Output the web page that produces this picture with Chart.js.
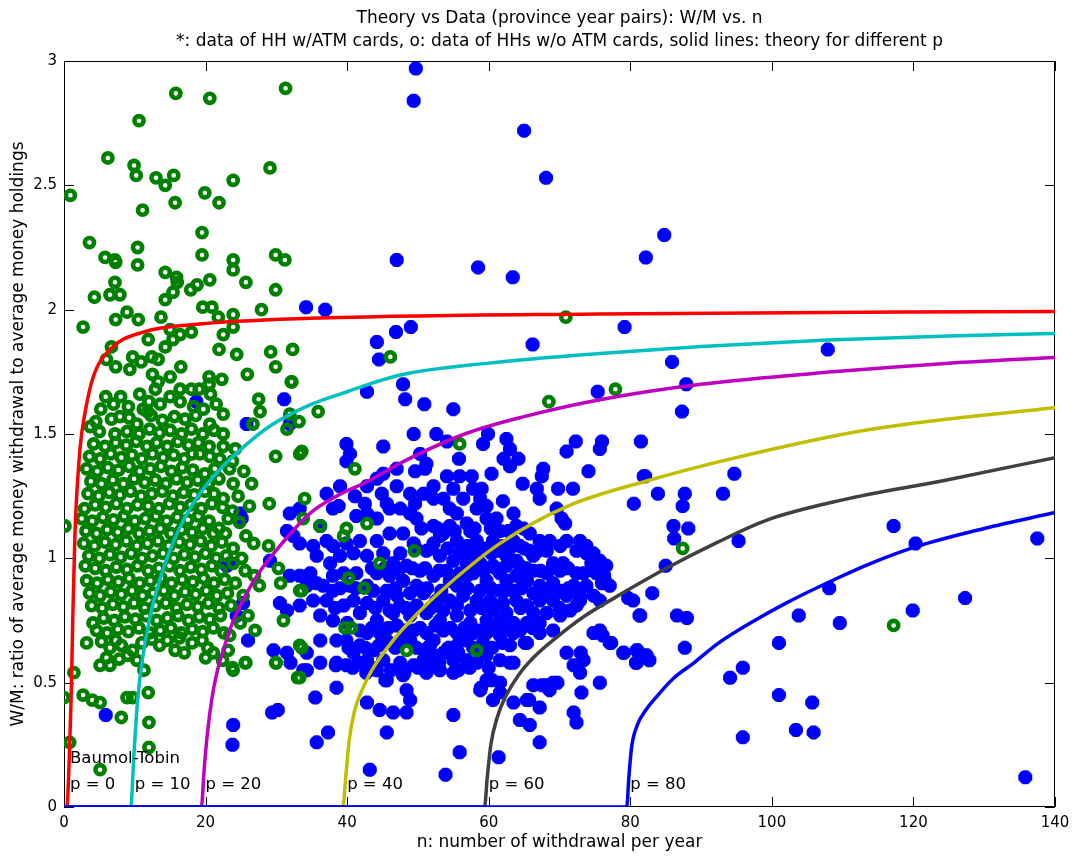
<!DOCTYPE html>
<html>
<head>
<meta charset="utf-8">
<script src="https://cdn.jsdelivr.net/npm/chart.js@4.4.0/dist/chart.umd.min.js"></script>
<style>
  html, body { margin: 0; padding: 0; background: #fff; }
</style>
</head>
<body>
<canvas id="grafico" width="1079" height="860"></canvas>
<script>
// p of every theory curve, and the axis ticks
const pValues = [0, 10, 20, 40, 60, 80];
const xTicks = [0, 20, 40, 60, 80, 100, 120, 140];
const yTicks = [0, 0.5, 1, 1.5, 2, 2.5, 3];

// theory curves [n, W/M]
const theoryP0 = [[0,0],[0.4,0],[0.75,0.2],[1.0,0.43],[1.25,0.77],[1.55,1.1],[2.26,1.44],[3.0,1.59],[4.14,1.73],[6.5,1.84],[11.2,1.91],[18.3,1.94],[34.7,1.965],[75.7,1.983],[140,1.993]];
const theoryP10 = [[0,0],[9.42,0],[9.9,0.22],[10.4,0.43],[11.0,0.58],[12.15,0.765],[13.4,0.9],[14.97,1.033],[17,1.16],[19.2,1.261],[21.8,1.35],[24.9,1.436],[29,1.53],[34.75,1.617],[40,1.67],[47.5,1.737],[60,1.785],[75.7,1.824],[90,1.852],[107.9,1.878],[125,1.894],[140,1.904]];
const theoryP20 = [[0,0],[19.4,0],[19.8,0.15],[20.2,0.28],[20.86,0.43],[21.6,0.54],[22.5,0.63],[23.8,0.74],[25.3,0.832],[27.5,0.94],[30.0,1.033],[34.75,1.181],[38.5,1.25],[42.8,1.308],[48,1.39],[56.9,1.503],[65,1.57],[75.7,1.638],[90,1.70],[108.6,1.75],[125,1.785],[140,1.808]];
const theoryP40 = [[0,0],[39.4,0],[39.8,0.12],[40.3,0.27],[41.0,0.38],[42.1,0.47],[43.5,0.55],[46.5,0.67],[50,0.78],[54.5,0.9],[61.6,1.06],[71.0,1.208],[82.8,1.315],[94.5,1.402],[113.4,1.516],[140,1.607]];
const theoryP60 = [[0,0],[59.4,0],[59.8,0.12],[60.3,0.25],[61.2,0.36],[62.5,0.45],[64.2,0.53],[66.3,0.6],[69.5,0.68],[73.4,0.765],[78,0.845],[85.1,0.96],[92,1.06],[99.3,1.154],[110,1.235],[124.7,1.315],[140,1.405]];
const theoryP80 = [[0,0],[79.5,0],[79.8,0.12],[80.2,0.243],[81.0,0.33],[82.2,0.39],[83.7,0.443],[86,0.515],[88.9,0.578],[92.5,0.66],[96.9,0.739],[102,0.82],[108.7,0.913],[114,0.98],[120.4,1.047],[130,1.12],[140,1.184]];

// HH with ATM cards (*), [n, W/M]
const conAtm = [
  [49.7,2.97],[49.4,2.84],[65.0,2.72],[68.1,2.53],[84.8,2.30],[82.2,2.21],[47.0,2.20],[58.5,2.17],[63.4,2.13],[34.2,2.01],[36.9,2.00],
  [79.2,1.93],[66.2,1.86],[44.2,1.87],[46.9,1.91],[49.0,1.93],[44.5,1.80],[47.9,1.70],[42.8,1.67],[31.1,1.64],[75.4,1.67],
  [107.9,1.84],[85.9,1.79],[87.9,1.70],[87.3,1.59],[75.7,1.44],[94.7,1.34],[81.9,1.33],[83.9,1.26],[87.7,1.26],[93.1,1.26],[80.5,1.22],
  [87.4,1.21],[86.1,1.13],[88.2,1.12],[86.2,1.08],[95.3,1.07],[85.0,0.97],[76.3,0.93],[76.0,0.90],[79.7,0.84],[83.1,0.86],[81.3,0.77],
  [86.6,0.77],[88.0,0.76],[76.1,0.69],[77.3,0.66],[79.1,0.62],[81.0,0.63],[80.8,0.58],[82.7,0.59],[87.7,0.64],[75.7,0.50],[117.2,1.13],
  [120.3,1.06],[137.5,1.08],[108.1,0.88],[103.8,0.77],[109.6,0.74],[119.9,0.79],[127.3,0.84],[101.0,0.66],[95.9,0.56],[94.1,0.52],
  [101.0,0.45],[105.7,0.42],[103.4,0.31],[105.9,0.30],[95.9,0.28],[135.8,0.12],
  [24.9,1.18],[25.1,1.16],[33.3,1.20],[31.9,1.18],[31.5,1.11],[32.4,1.09],[33.3,1.06],[29.1,0.99],[31.9,0.93],[33.3,0.93],[34.3,0.89],
  [23.0,0.97],[23.5,0.98],[30.5,0.82],[31.5,0.79],[25.3,0.82],[24.4,0.77],[26.0,0.67],[29.6,0.63],[31.5,0.62],[33.8,0.55],[32.0,0.58],
  [25.8,1.54],[18.7,1.63],[31.9,1.54],[5.9,0.37],
  [23.9,0.33],[23.8,0.25],[29.4,0.38],[30.2,0.39],[43.2,0.15],[45.4,0.51],[55.9,0.22],[53.9,0.13],[61.4,0.20],[58.9,0.48],[65.7,0.43],
  [67.5,0.49],[68.6,0.47],[69.7,0.50],[60.5,0.51],[73.0,0.62],[65.1,0.66],[38.4,0.57],[41.6,0.58],[42.7,0.54],[48.1,0.54],[50.8,0.59],
  [53.0,0.58],[55.7,0.55],[55.7,0.62],[63.0,0.58],
  [41.3,1.17],[42.8,1.18],[44.2,1.16],[46.0,1.20],[48.9,1.18],[49.8,1.16],[52.2,1.13],[53.1,1.09],[54.5,1.13],[56.9,1.14],[57.4,1.11],
  [59.7,1.16],[61.1,1.16],[61.6,1.11],[63.5,1.07],[64.4,1.05],[65.8,1.03],[66.3,1.01],[62.0,1.05],[60.4,1.02],[58.8,1.03],[56.9,1.05],
  [55.5,1.07],[52.2,1.06],[51.2,1.03],[53.1,1.01],[55.0,0.99],[56.9,0.98],[58.8,0.98],[60.6,0.97],[62.5,0.97],[64.4,0.97],[66.3,0.95],
  [68.2,0.94],[70.1,0.95],[72.4,1.03],[73.8,1.02],[74.5,0.98],[75.2,0.94],[76.2,0.93],[70.5,0.98],[69.1,0.98],[63.9,0.93],[62.5,0.91],
  [59.7,0.91],[56.9,0.93],[54.5,0.91],[52.2,0.93],[50.3,0.95],[48.4,0.97],[46.5,0.98],[42.8,1.01],[40.9,1.02],[39.0,1.01],[37.6,0.98],
  [35.7,1.01],[34.8,0.94],[35.7,0.90],[38.0,0.87],[40.4,0.89],[42.8,0.89],[40.9,0.83],[42.8,0.82],[45.1,0.83],[47.0,0.85],[48.9,0.86],
  [50.8,0.86],[52.6,0.83],[54.5,0.83],[56.4,0.85],[58.3,0.83],[60.2,0.83],[62.0,0.82],[63.9,0.83],[65.4,0.81],[67.2,0.83],[69.1,0.83],
  [71.0,0.85],[72.9,0.83],[72.4,0.81],[41.8,0.78],[44.2,0.75],[46.5,0.78],[48.9,0.77],[51.2,0.78],[53.1,0.75],[55.5,0.77],[57.4,0.74],
  [59.7,0.75],[61.6,0.75],[63.5,0.74],[65.4,0.74],[67.2,0.74],[69.1,0.71],[70.1,0.77],[42.8,0.70],[44.6,0.70],[47.0,0.73],[49.4,0.71],
  [51.2,0.70],[53.6,0.71],[55.5,0.70],[57.8,0.70],[59.7,0.70],[61.6,0.69],[63.5,0.70],[65.4,0.66],[67.2,0.70],[38.5,0.67],[41.8,0.65],
  [43.7,0.63],[45.6,0.67],[48.9,0.67],[50.8,0.63],[52.2,0.61],[53.6,0.62],[55.5,0.65],[56.9,0.59],[59.7,0.61],[61.6,0.59],[63.5,0.58],
  [38.5,0.58],[39.9,0.57],[42.8,0.59],[47.5,0.58],[49.4,0.57],[51.2,0.54],[53.1,0.55],[55.0,0.54],[34.3,0.55],[45.6,0.51],[47.9,0.53],
  [48.4,0.47],[48.9,0.43],[38.5,0.48],[35.5,0.44],[42.8,0.42],[44.6,0.39],[46.5,0.38],[48.4,0.38],[55.0,0.37],[45.6,0.30],[37.3,0.30],
  [35.7,0.26],[58.8,0.47],[59.7,0.51],[61.6,0.50],[61.6,0.46],[60.6,0.43],[63.5,0.42],[65.4,0.43],[67.2,0.40],[65.8,0.33],[64.4,0.35],
  [67.2,0.26],[68.2,0.49],[69.1,0.50],[66.3,0.49],[72.0,0.57],[73.4,0.59],[72.9,0.54],[73.1,0.46],[72.0,0.38],[72.4,0.34],[71.0,0.62],
  [74.8,0.70],[75.7,0.71],[77.1,0.66],[79.0,0.62],[80.9,0.63],[80.9,0.58],[82.3,0.61],[80.4,0.83],[81.4,0.77],[72.9,0.85],[75.7,0.83],
  [72.4,0.94],[74.8,0.97],[76.4,0.91],
  [48.2,1.64],[50.9,1.62],[55.0,1.60],[49.4,1.50],[52.6,1.50],[54.1,1.47],[59.9,1.50],[59.2,1.46],[62.5,1.48],[63.0,1.44],[72.3,1.47],
  [71.0,1.43],[76.0,1.47],[81.5,1.47],[39.9,1.46],[40.4,1.42],[39.9,1.39],[45.1,1.45],[50.3,1.42],[51.2,1.38],[55.8,1.40],[62.1,1.40],
  [64.2,1.40],[63.0,1.37],[67.7,1.36],[67.5,1.33],[74.1,1.35],[47.0,1.36],[45.1,1.34],[44.2,1.32],[49.6,1.35],[51.0,1.36],[54.1,1.33],
  [55.9,1.33],[57.6,1.33],[60.4,1.34],[64.8,1.30],[66.8,1.28],[69.8,1.28],[71.9,1.28],[67.2,1.24],[52.2,1.29],[55.0,1.28],[56.4,1.24],
  [57.8,1.28],[59.0,1.28],[58.8,1.24],[41.1,1.25],[42.5,1.22],[44.9,1.26],[45.6,1.22],[47.5,1.20],[49.6,1.22],[52.2,1.24],[38.8,1.21],
  [62.0,1.23],[69.6,1.20],[70.3,1.16],[70.8,1.14],[82.1,1.33],
  [53.6,1.10],[58.3,1.07],[60.6,1.07],[55.9,1.02],[57.8,1.01],[62.5,1.01],[63.9,0.99],[54.0,0.95],[55.9,0.94],[57.8,0.94],[61.6,0.94],
  [65.4,0.91],[67.2,0.89],[69.1,0.90],[55.5,0.89],[58.8,0.87],[61.6,0.87],[63.5,0.87],[66.3,0.86],[70.1,0.87],[72.0,0.89],[53.6,0.79],
  [57.4,0.79],[60.6,0.79],[62.5,0.78],[66.3,0.78],[68.2,0.78],[49.8,0.81],[47.5,0.81],[45.6,0.87],[47.9,0.91],[49.8,0.89],[44.2,0.94],
  [46.0,0.93],[41.3,0.94],[39.5,0.94],[38.0,0.93],[37.1,0.83],[39.5,0.81],[36.2,0.77],[38.0,0.75],[40.0,0.74],[41.8,0.71],[39.9,0.67],
  [47.5,0.67],[52.2,0.67],[56.9,0.67],[59.2,0.66],[62.0,0.66],[55.0,0.59],[58.3,0.58],[45.1,0.59],[44.2,0.55],[40.9,0.62],[36.2,0.67],
  [34.3,0.62],[36.2,0.58],[33.3,0.81],[35.2,0.83],[36.6,0.89],[38.0,1.05],[39.9,1.06],[41.8,1.07],[44.2,1.07],[46.0,1.10],[47.9,1.10],
  [49.4,1.06],[47.5,1.02],[45.1,1.02],[37.1,1.07],[35.2,1.05],[36.2,1.13],[38.0,1.20],[37.1,1.26],[39.0,1.29],[42.8,1.29],[47.0,1.29],
  [48.9,1.26],[50.8,1.26],[53.6,1.24],[54.5,1.20],[55.5,1.18],[58.3,1.20],[59.7,1.21],[63.5,1.18],[63.9,1.13],[65.8,1.10],[67.2,1.07],
  [68.6,1.07],[68.2,1.03],[70.1,1.05],[71.0,1.07],[72.9,1.07],[73.8,1.05],[74.8,1.02],[75.7,0.99],[76.6,0.97],[73.4,0.94],[73.8,0.89],
  [74.8,0.85],[77.1,0.89],
  [50.5,1.12],[52.8,1.12],[55.2,1.11],[58.0,1.12],[60.3,1.12],[62.8,1.11],[64.9,1.12],
  [49.7,1.04],[51.9,1.04],[54.2,1.04],[56.2,1.03],[58.0,1.04],[59.6,1.04],[61.3,1.03],[63.0,1.04],[65.0,1.04],[67.0,1.03],
  [43.5,0.96],[45.3,0.96],[47.2,0.95],[49.2,0.96],[51.0,0.96],[53.0,0.95],[57.5,0.96],[59.3,0.95],[61.0,0.96],[65.3,0.96],[67.3,0.95],[69.0,0.96],[71.2,0.96],
  [39.0,0.88],[41.2,0.88],[43.7,0.87],[46.8,0.88],[51.3,0.88],[53.3,0.87],[57.0,0.88],[60.3,0.88],[62.3,0.87],[64.6,0.88],[68.2,0.87],[71.3,0.88],
  [38.3,0.80],[44.0,0.80],[46.0,0.79],[48.3,0.80],[51.8,0.80],[55.5,0.81],[59.0,0.80],[64.5,0.80],[70.0,0.80],[71.5,0.79],
  [43.5,0.72],[45.8,0.72],[48.0,0.71],[50.3,0.72],[52.5,0.73],[54.6,0.72],[56.6,0.72],[58.6,0.71],[60.6,0.72],[62.5,0.72],[64.4,0.71],[66.2,0.72],
  [40.2,0.64],[42.6,0.64],[44.5,0.65],[46.8,0.64],[49.8,0.64],[51.7,0.65],[54.3,0.64],[57.8,0.64],[60.5,0.64],[63.0,0.65],
  [40.8,0.56],[43.5,0.56],[46.2,0.55],[50.0,0.56],[52.2,0.57],[57.3,0.56],[60.0,0.56]
];

// HH without ATM cards (o), [n, W/M]
const sinAtm = [
  [15.8,2.87],[20.6,2.85],[31.3,2.89],[10.6,2.76],[6.2,2.61],[9.9,2.58],[10.2,2.54],[13.0,2.53],[15.5,2.54],[14.3,2.50],[23.9,2.52],
  [29.1,2.57],[0.9,2.46],[19.9,2.47],[21.9,2.43],[15.7,2.43],[11.1,2.40],[19.5,2.31],[3.6,2.27],[10.4,2.25],[19.5,2.22],[5.8,2.21],
  [7.2,2.20],[23.9,2.20],[29.9,2.22],[31.2,2.20],[7.3,2.19],[10.4,2.18],[23.9,2.16],[14.3,2.15],[15.9,2.13],[16.0,2.11],[7.2,2.11],
  [4.3,2.05],[6.5,2.06],[7.9,2.06],[15.4,2.07],[17.9,2.08],[18.8,2.10],[20.6,2.12],[25.7,2.11],[29.9,2.08],[14.3,2.04],[8.9,1.99],
  [7.3,1.96],[10.5,1.96],[13.7,1.97],[19.6,2.01],[20.9,2.01],[21.8,1.97],[23.9,1.98],[27.9,2.00],[2.7,1.93],[15.0,1.92],[16.4,1.90],
  [18.0,1.91],[23.9,1.93],[22.5,1.90],[11.9,1.88],[15.4,1.88],[14.3,1.85],[6.7,1.85],[21.9,1.84],[24.4,1.82],[29.2,1.83],[32.3,1.84],
  [6.0,1.80],[7.3,1.77],[9.7,1.81],[10.9,1.79],[12.4,1.81],[13.3,1.80],[9.3,1.76],[12.5,1.74],[15.0,1.73],[16.5,1.77],[25.9,1.74],
  [29.9,1.77],[20.5,1.73],[22.3,1.72],[32.2,1.71],[13.3,1.71],[5.9,1.65],[8.0,1.65],[10.7,1.66],[12.9,1.68],[16.4,1.68],[18.0,1.68],
  [19.1,1.68],[20.7,1.66],[20.5,1.70],[27.5,1.64],[31.9,1.58],[27.7,1.59],[33.2,1.55],[31.5,1.52],[3.7,1.53],[6.7,1.56],[7.9,1.57],
  [9.1,1.61],[7.2,1.50],[8.9,1.51],[10.3,1.54],[11.8,1.59],[13.6,1.62],[15.0,1.65],[16.4,1.63],[18.3,1.61],[19.7,1.60],[20.6,1.54],
  [22.5,1.58],[22.5,1.50],[26.7,1.54],[22.5,1.45],
  [35.9,1.59],[33.6,1.43],[55.9,1.46],[41.1,1.36],[68.5,1.63],[34.0,1.24],[33.8,1.16],[36.2,1.13],[39.9,1.12],[39.5,1.09],[42.8,1.14],
  [49.5,1.03],[44.6,0.98],[40.2,0.92],[42.4,0.88],[33.6,0.87],[39.7,0.72],[40.6,0.72],[33.6,0.64],[48.4,0.63],[58.3,0.63],[33.3,0.52],
  [70.9,1.97],[77.9,1.68],[87.4,1.04],[117.2,0.73],[46.1,1.81],[32.1,1.71],
  [0.14,1.13],[3.0,0.97],[1.4,0.54],[4.1,0.74],[3.2,0.66],[5.3,1.30],[26.5,1.30],[29.0,1.22],[33.3,1.42],[29.9,1.41],[28.9,1.05],
  [30.3,0.96],[30.6,0.90],[33.3,0.87],[31.0,0.75],[33.3,0.65],[33.0,0.52],[29.9,0.58],[27.0,0.71],[25.6,0.58],[25.6,0.95],[23.9,0.55],
  [21.1,0.62],[23.2,0.63],[23.4,0.69],[21.9,1.12],[25.7,1.09],[23.9,0.98],[24.9,0.74],[23.9,1.30],[22.5,1.24],[23.4,1.36],[19.9,1.34],
  [22.0,1.40],[19.2,1.42],[0,0.44],[2.7,0.45],[4.0,0.43],[5.1,0.42],[0.8,0.26],[5.1,0.15],[8.1,0.36],[8.9,0.44],[9.7,0.44],[11.9,0.46],
  [12.0,0.34],[12.0,0.24],[11.3,0.55],[5.1,0.57],[6.5,0.57],[6.5,0.64],[8.1,0.65],[9.7,0.63],[13.5,0.65],[15.7,0.63],[17.0,0.62],
  [18.1,0.66],[22.4,0.59],[23.8,0.56],[25.7,0.58],[30.0,0.58],
  [5.2,1.60],[7.0,1.62],[11.2,1.60],[12.0,1.63],[21.5,1.62],
  [4.5,1.55],[9.2,1.565],[12.3,1.575],[13.9,1.555],[15.6,1.57],[17.1,1.56],[18.6,1.575],
  [5.0,1.51],[10.6,1.50],[12.1,1.52],[13.5,1.505],[15.0,1.515],[16.6,1.50],[18.0,1.52],[19.6,1.50],[21.2,1.515],
  [4.2,1.46],[5.8,1.45],[7.3,1.465],[8.8,1.455],[10.2,1.47],[11.7,1.45],[13.1,1.465],[14.6,1.45],[16.1,1.47],[17.6,1.455],[19.0,1.465],[20.5,1.45],[24.2,1.44],
  [3.6,1.41],[5.1,1.40],[6.6,1.42],[8.1,1.405],[9.6,1.415],[11.0,1.40],[12.5,1.42],[14.0,1.405],[15.5,1.415],[17.0,1.40],[18.1,1.42],[20.6,1.41],[23.8,1.39],
  [3.2,1.36],[4.7,1.35],[6.2,1.365],[7.7,1.355],[9.2,1.37],[10.7,1.35],[12.2,1.36],[13.7,1.37],[15.2,1.35],[16.7,1.365],[18.2,1.355],[21.3,1.36],[25.4,1.35],
  [3.8,1.31],[6.9,1.315],[8.4,1.30],[9.9,1.32],[11.4,1.305],[12.9,1.315],[14.4,1.30],[15.9,1.32],[17.4,1.305],[18.9,1.315],[20.4,1.30],[21.9,1.32],
  [3.4,1.26],[4.9,1.25],[6.4,1.265],[7.9,1.255],[9.4,1.27],[10.9,1.25],[12.4,1.26],[13.9,1.27],[15.4,1.25],[16.9,1.265],[18.4,1.255],[19.9,1.27],[21.2,1.26],[24.6,1.25],
  [2.9,1.20],[4.4,1.215],[5.9,1.205],[7.4,1.22],[8.9,1.20],[10.4,1.215],[11.9,1.21],[13.4,1.20],[14.9,1.22],[16.4,1.205],[17.9,1.215],[19.4,1.20],[20.9,1.22],[22.4,1.205],[23.8,1.19],[26.2,1.21],
  [2.5,1.16],[4.0,1.15],[5.5,1.165],[7.0,1.155],[8.5,1.17],[10.0,1.15],[11.5,1.16],[13.0,1.17],[14.5,1.15],[16.0,1.165],[17.5,1.155],[19.0,1.17],[20.5,1.15],[23.2,1.16],[24.8,1.145],
  [3.1,1.11],[4.6,1.10],[6.1,1.115],[7.6,1.105],[9.1,1.12],[10.6,1.10],[12.1,1.11],[13.6,1.12],[15.1,1.10],[16.6,1.115],[18.1,1.105],[19.6,1.12],[21.1,1.10],[22.8,1.10],
  [2.8,1.06],[4.3,1.05],[5.8,1.065],[7.3,1.055],[8.8,1.07],[10.3,1.05],[11.8,1.06],[13.3,1.07],[14.8,1.05],[16.3,1.065],[17.8,1.055],[19.3,1.07],[20.8,1.05],[22.3,1.065],[23.9,1.04],[26.8,1.06],
  [3.5,1.01],[5.0,1.00],[6.5,1.015],[8.0,1.005],[9.5,1.02],[11.0,1.00],[12.5,1.01],[14.0,1.02],[15.5,1.00],[17.0,1.015],[18.5,1.005],[20.0,1.02],[21.5,1.00],[22.9,1.01],[25.1,1.00],
  [4.4,0.96],[5.9,0.95],[7.4,0.965],[8.9,0.955],[10.4,0.97],[11.9,0.95],[13.4,0.96],[14.9,0.97],[16.4,0.95],[17.9,0.965],[19.4,0.955],[20.9,0.97],[22.2,0.95],[26.9,0.93],
  [3.2,0.91],[4.7,0.90],[6.2,0.915],[7.7,0.905],[9.2,0.92],[10.7,0.90],[12.2,0.91],[13.7,0.92],[15.2,0.90],[16.7,0.915],[18.2,0.905],[19.7,0.92],[21.2,0.90],[22.7,0.915],[24.2,0.90],[27.6,0.89],
  [3.6,0.86],[5.1,0.85],[6.6,0.865],[8.1,0.855],[9.6,0.87],[11.1,0.85],[12.6,0.86],[14.1,0.87],[15.6,0.85],[17.1,0.865],[18.6,0.855],[20.1,0.87],[21.6,0.85],[23.1,0.86],[25.3,0.85],
  [3.9,0.81],[5.4,0.80],[6.9,0.815],[8.4,0.805],[9.9,0.82],[11.4,0.80],[12.9,0.81],[14.4,0.82],[15.9,0.80],[17.4,0.815],[18.9,0.805],[20.4,0.82],[21.9,0.80],[23.6,0.81],
  [5.6,0.76],[7.1,0.75],[8.6,0.765],[10.1,0.755],[11.6,0.77],[13.1,0.75],[14.6,0.76],[16.1,0.77],[17.6,0.75],[19.1,0.765],[20.6,0.755],[22.1,0.77],[26.0,0.77],
  [4.6,0.71],[6.1,0.70],[7.6,0.715],[9.1,0.705],[10.6,0.72],[12.1,0.70],[13.6,0.71],[15.1,0.72],[16.6,0.70],[18.1,0.715],[19.6,0.705],[21.1,0.72],[22.6,0.70],
  [5.3,0.665],[7.3,0.67],[11.0,0.66],[12.4,0.675],[14.6,0.67],[16.3,0.68],[19.5,0.67],[20.3,0.64],
  [6.0,0.60],[7.8,0.595],[9.0,0.61],[10.3,0.59],[20.0,0.60]
];

const curves = [theoryP0, theoryP10, theoryP20, theoryP40, theoryP60, theoryP80];
const curveColors = ["#ff0000", "#00bfbf", "#bf00bf", "#bfbf00", "#404040", "#0000ff"];

const toXY = arr => arr.map(([n, w]) => ({ x: n, y: w }));

const datasets = curves.map((c, i) => ({
  data: toXY(c),
  showLine: true,
  borderColor: curveColors[i],
  borderWidth: 3.5,
  pointRadius: 0,
  cubicInterpolationMode: "monotone",
  borderJoinStyle: "round",
  order: curves.length - i
}));
datasets.push({
  data: toXY(sinAtm),
  pointStyle: "circle",
  pointRadius: 4.6,
  pointBorderWidth: 4.6,
  pointBorderColor: "#008000",
  pointBackgroundColor: "rgba(0,0,0,0)",
  order: 10
});
datasets.push({
  data: toXY(conAtm),
  pointStyle: "star",
  pointRadius: 7,
  pointBorderWidth: 5,
  pointBorderColor: "#0000ff",
  pointBackgroundColor: "#0000ff",
  order: 11
});

// box with inward ticks, text labels and the two title lines
const marco = {
  id: "marco",
  beforeDatasetsDraw(chart) {
    const { ctx, chartArea: a, scales: { x, y } } = chart;
    ctx.save();
    ctx.strokeStyle = "#000";
    ctx.lineWidth = 1;
    ctx.strokeRect(a.left + 0.5, a.top + 0.5, a.right - a.left - 1, a.bottom - a.top - 1);
    ctx.beginPath();
    xTicks.forEach(v => {
      const px = Math.round(x.getPixelForValue(v)) + 0.5;
      ctx.moveTo(px, a.bottom); ctx.lineTo(px, a.bottom - 10);
      ctx.moveTo(px, a.top); ctx.lineTo(px, a.top + 10);
    });
    yTicks.forEach(v => {
      const py = Math.round(y.getPixelForValue(v)) + 0.5;
      ctx.moveTo(a.left, py); ctx.lineTo(a.left + 10, py);
      ctx.moveTo(a.right, py); ctx.lineTo(a.right - 10, py);
    });
    ctx.stroke();
    ctx.restore();
  },
  afterDatasetsDraw(chart) {
    const { ctx, scales: { x, y } } = chart;
    ctx.save();
    ctx.fillStyle = "#000";
    ctx.font = "16.5px 'DejaVu Sans'";
    ctx.textAlign = "left";
    ctx.textBaseline = "middle";
    ctx.fillText("Baumol-Tobin", x.getPixelForValue(0.85), y.getPixelForValue(0.196));
    pValues.forEach(p => {
      const n = p === 0 ? 0.85 : p;
      ctx.fillText("p = " + p, x.getPixelForValue(n), y.getPixelForValue(0.088));
    });
    ctx.restore();
  },
  afterDraw(chart) {
    const { ctx, chartArea: a } = chart;
    const cx = (a.left + a.right) / 2;
    ctx.save();
    ctx.fillStyle = "#000";
    ctx.font = "17px 'DejaVu Sans'";
    ctx.textAlign = "center";
    ctx.textBaseline = "middle";
    ctx.fillText("Theory vs Data (province year pairs): W/M vs. n", cx, 19);
    ctx.fillText("*: data of HH w/ATM cards, o: data of HHs w/o ATM cards, solid lines: theory for different p", cx, 42);
    ctx.restore();
  }
};

const ctx = document.getElementById("grafico").getContext("2d");
const grafico = new Chart(ctx, {
  type: "scatter",
  data: { datasets },
  options: {
    responsive: false,
    animation: false,
    events: [],
    layout: { padding: { top: 61, right: 24, left: 0, bottom: 0 } },
    plugins: { legend: { display: false }, tooltip: { enabled: false } },
    scales: {
      x: {
        type: "linear",
        min: 0,
        max: 140,
        afterBuildTicks: s => { s.ticks = xTicks.map(v => ({ value: v })); },
        afterFit: s => { s.height = 53; },
        grid: { display: false, drawTicks: false },
        border: { display: false },
        ticks: { color: "#000", font: { family: "DejaVu Sans", size: 15 }, padding: 7, autoSkip: false, maxRotation: 0, callback: v => String(v) },
        title: {
          display: true,
          text: "n: number of withdrawal per year",
          color: "#000",
          font: { family: "DejaVu Sans", size: 17 },
          padding: { top: 0, bottom: 7 }
        }
      },
      y: {
        type: "linear",
        min: 0,
        max: 3,
        afterBuildTicks: s => { s.ticks = yTicks.map(v => ({ value: v })); },
        afterFit: s => { s.width = 64; },
        grid: { display: false, drawTicks: false },
        border: { display: false },
        ticks: { color: "#000", font: { family: "DejaVu Sans", size: 15 }, padding: 7, autoSkip: false, callback: v => String(v) },
        title: {
          display: true,
          text: "W/M: ratio of average money withdrawal to average money holdings",
          color: "#000",
          font: { family: "DejaVu Sans", size: 17 },
          padding: { top: 8, bottom: 0 }
        }
      }
    }
  },
  plugins: [marco]
});
</script>
</body>
</html>
